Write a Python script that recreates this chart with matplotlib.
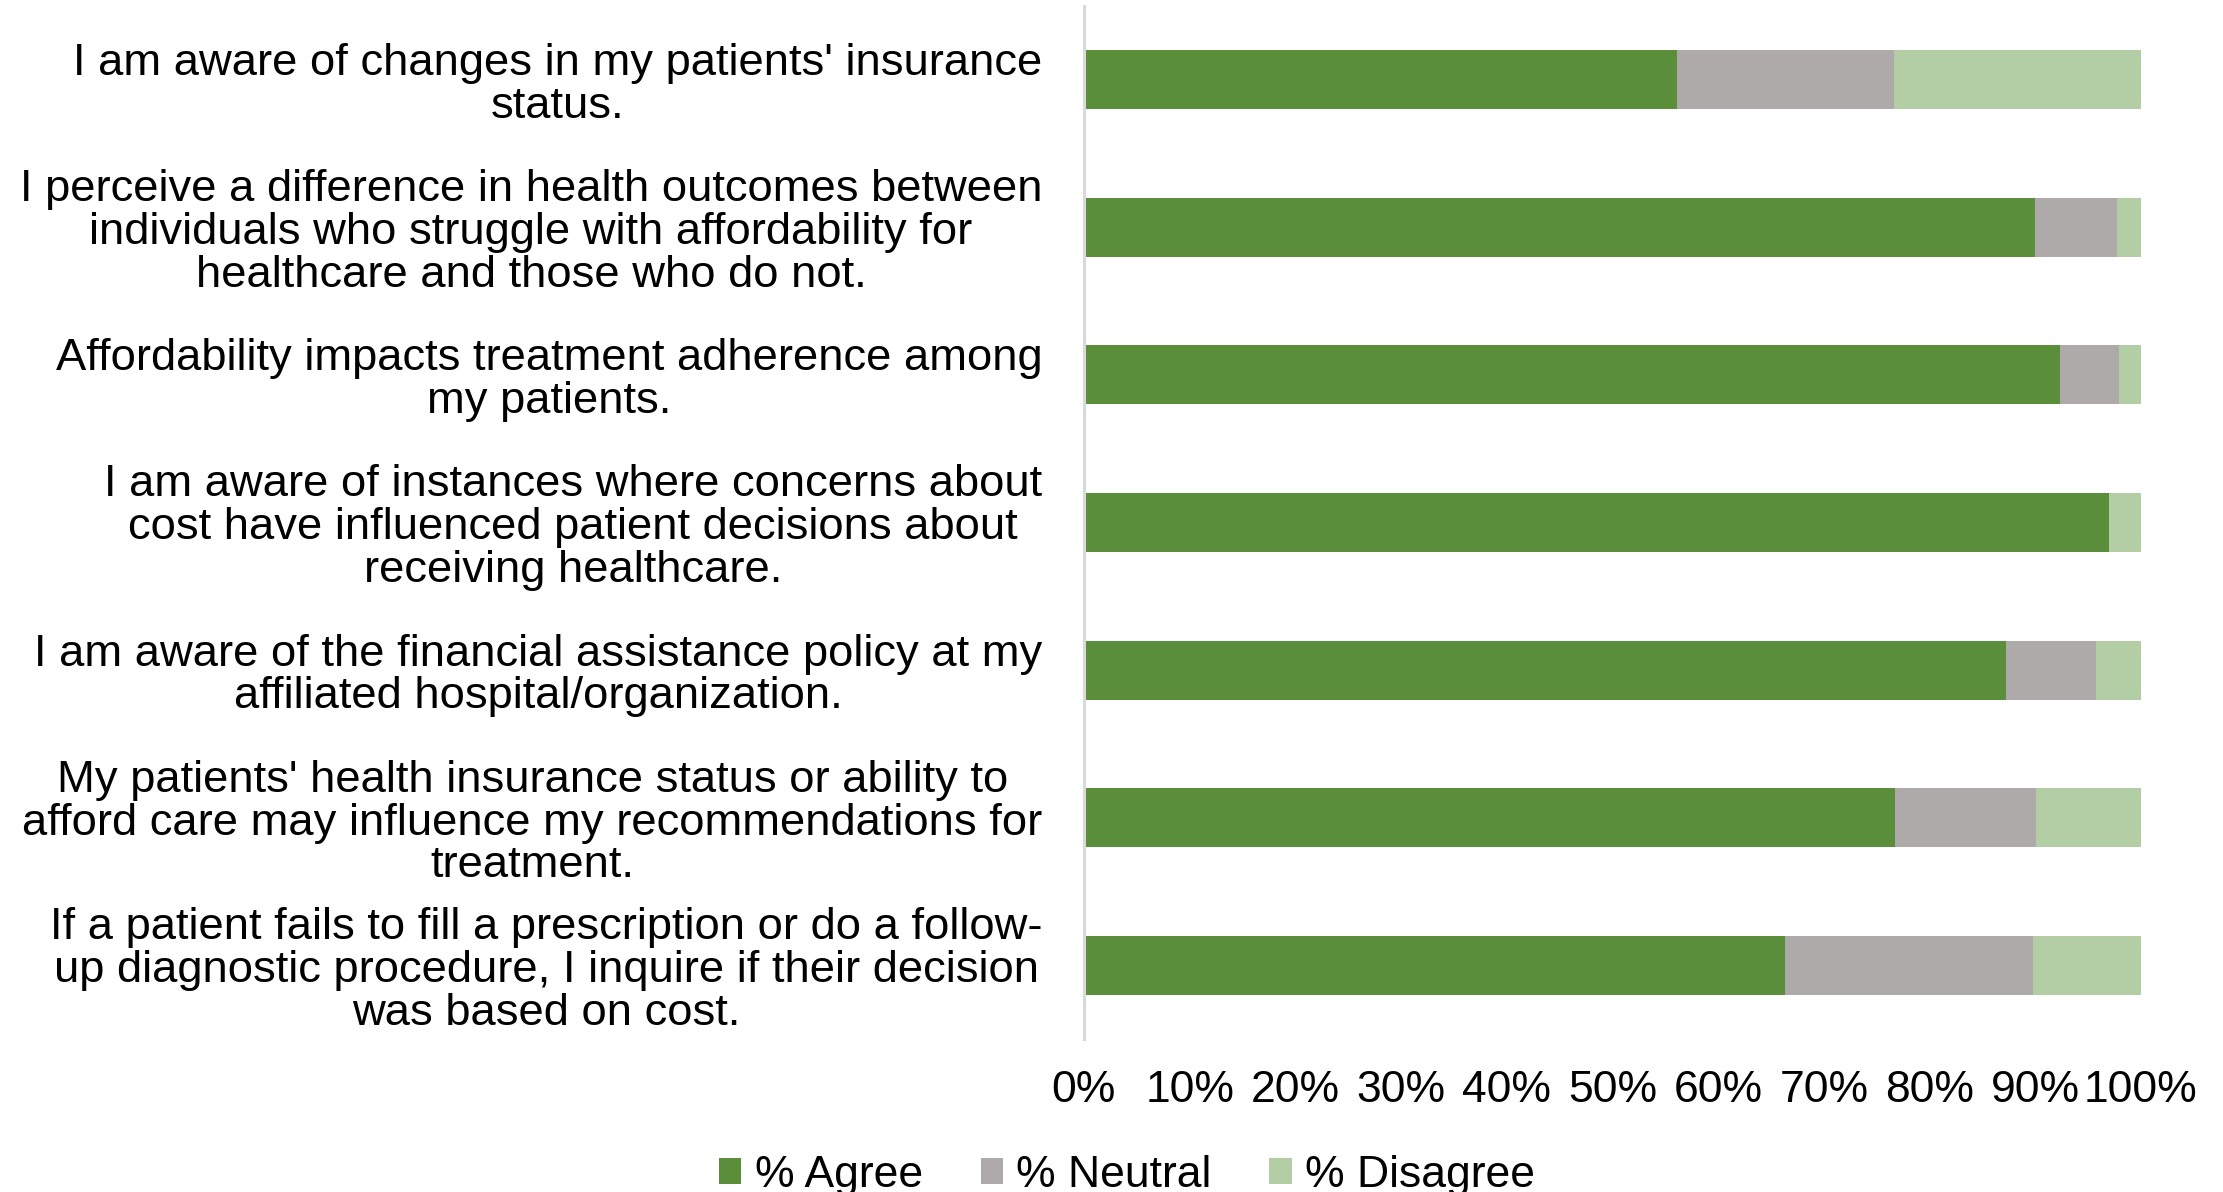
import matplotlib
matplotlib.use('Agg')
import matplotlib.pyplot as plt
import numpy as np

plt.rcParams['font.family'] = ['Liberation Sans', 'DejaVu Sans']

# statements, top to bottom
statements = [
    "I am aware of changes in my patients' insurance\nstatus.",
    "I perceive a difference in health outcomes between\nindividuals who struggle with affordability for\nhealthcare and those who do not.",
    "Affordability impacts treatment adherence among\nmy patients.",
    "I am aware of instances where concerns about\ncost have influenced patient decisions about\nreceiving healthcare.",
    "I am aware of the financial assistance policy at my\naffiliated hospital/organization.",
    "My patients' health insurance status or ability to\nafford care may influence my recommendations for\ntreatment.",
    "If a patient fails to fill a prescription or do a follow-\nup diagnostic procedure, I inquire if their decision\nwas based on cost.",
]
agree = [56.1, 90.0, 92.3, 97.0, 87.2, 76.7, 66.3]
neutral = [20.5, 7.7, 5.6, 0.0, 8.5, 13.4, 23.5]
disagree = [23.4, 2.3, 2.1, 3.0, 4.3, 9.9, 10.2]

series = ['% Agree', '% Neutral', '% Disagree']
colors = ['#5B8E3B', '#AEAAAA', '#B3CDA4']

fig = plt.figure(figsize=(22.23, 11.92), dpi=100)
ax = fig.add_axes([0.4876, 0.1284, 0.4755, 0.8666])

y = np.arange(len(statements))
left = np.zeros(len(statements))
for vals, name, col in zip([agree, neutral, disagree], series, colors):
    ax.barh(y, vals, left=left, height=0.4, color=col, label=name)
    left += np.array(vals)

ax.set_ylim(len(statements) - 0.5, -0.5)
ax.set_xlim(0, 100)
ax.set_yticks(y)
ax.set_yticklabels(statements, fontsize=32.7, multialignment='center', linespacing=1.06)
ax.set_xticks(np.arange(0, 101, 10))
ax.set_xticklabels([f'{v}%' for v in range(0, 101, 10)], fontsize=32)
ax.tick_params(axis='y', length=0, pad=30)
ax.tick_params(axis='x', length=0, pad=22)

for s in ['top', 'right', 'bottom']:
    ax.spines[s].set_visible(False)
ax.spines['left'].set_color('#D9D9D9')
ax.spines['left'].set_linewidth(2.2)

fig.legend(loc='center', bbox_to_anchor=(0.507, 0.014), ncol=3, frameon=False,
           fontsize=32, handlelength=0.5, handleheight=0.5, handletextpad=0.3,
           columnspacing=1.3)

fig.savefig('out.png', dpi=100)
